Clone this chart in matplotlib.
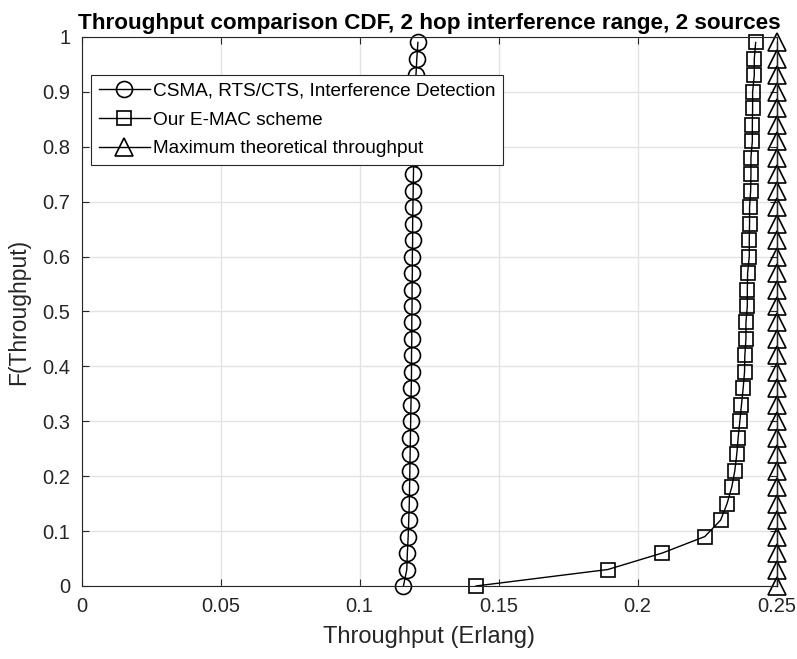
import matplotlib
matplotlib.use("Agg")
import matplotlib.pyplot as plt
import numpy as np

plt.rcParams['font.family'] = ['Liberation Sans', 'DejaVu Sans']

# CDF levels
cdf = np.arange(34) * 0.03

# Throughput values
csma = [0.1158, 0.1170, 0.1172, 0.1175, 0.1177, 0.1179, 0.1180, 0.1181, 0.1182, 0.1183,
        0.1184, 0.1185, 0.1186, 0.1187, 0.1187, 0.1188, 0.1188, 0.1189, 0.1189, 0.1190,
        0.1190, 0.1191, 0.1191, 0.1192, 0.1193, 0.1194, 0.1195, 0.1196, 0.1197, 0.1198,
        0.1200, 0.1203, 0.1206, 0.1210]
emac = [0.1419, 0.1893, 0.2089, 0.2242, 0.2299, 0.2322, 0.2339, 0.2350, 0.2357, 0.2362,
        0.2368, 0.2374, 0.2380, 0.2385, 0.2386, 0.2390, 0.2390, 0.2395, 0.2395, 0.2396,
        0.2402, 0.2402, 0.2403, 0.2403, 0.2407, 0.2408, 0.2408, 0.2413, 0.2413, 0.2414,
        0.2414, 0.2420, 0.2420, 0.2425]
maxth = [0.25] * 34

labels = ['CSMA, RTS/CTS, Interference Detection', 'Our E-MAC scheme',
          'Maximum theoretical throughput']

fig = plt.figure(figsize=(7.97, 6.59), dpi=100)
ax = fig.add_axes([0.1023, 0.1108, 0.8720, 0.8331])

ax.plot(csma, cdf, 'k-', marker='o', mfc='none', ms=11.5, mew=1.2, lw=1, label=labels[0], clip_on=False)
ax.plot(emac, cdf, 'k-', marker='s', mfc='none', ms=10, mew=1.2, lw=1, label=labels[1], clip_on=False)
ax.plot(maxth, cdf, 'k-', marker='^', mfc='none', ms=13, mew=1.2, lw=1, label=labels[2], clip_on=False)

ax.set_xlim(0, 0.25)
ax.set_ylim(0, 1)
ax.set_xticks([0, 0.05, 0.1, 0.15, 0.2, 0.25])
ax.set_xticklabels(['0', '0.05', '0.1', '0.15', '0.2', '0.25'])
ax.set_yticks(np.arange(0, 1.01, 0.1))
ax.set_yticklabels(['0', '0.1', '0.2', '0.3', '0.4', '0.5', '0.6', '0.7', '0.8', '0.9', '1'])
ax.grid(True, color='#e3e3e3', lw=1)
ax.set_axisbelow(True)
ax.tick_params(direction='in', top=True, right=True, labelsize=14.5, colors='#262626',
               length=5, width=0.8)
ax.tick_params(axis='x', pad=8)
ax.tick_params(axis='y', pad=8)
for s in ax.spines.values():
    s.set_color('#262626')
    s.set_linewidth(0.8)

ax.set_xlabel('Throughput (Erlang)', fontsize=17, color='#262626', labelpad=7)
ax.set_ylabel('F(Throughput)', fontsize=16.5, color='#262626', labelpad=9)
ax.set_title('Throughput comparison CDF, 2 hop interference range, 2 sources',
             fontsize=16.2, fontweight='bold', pad=6)

leg = ax.legend(loc='upper left', bbox_to_anchor=(0.0137, 0.931), borderaxespad=0,
                fontsize=13.7, fancybox=False, framealpha=1, edgecolor='#262626',
                handlelength=2.7, handletextpad=0.15, labelspacing=0.6, borderpad=0.4)
leg.get_frame().set_linewidth(0.8)

fig.savefig('out.png', dpi=100)
